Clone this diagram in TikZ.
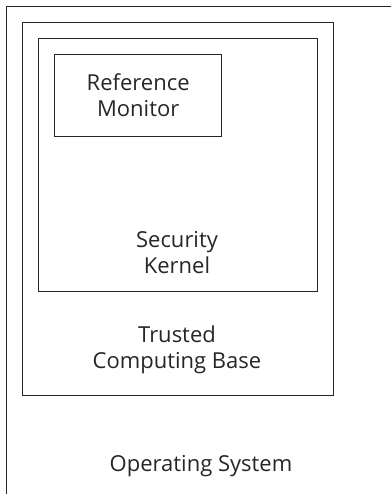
\documentclass[tikz,border=0pt]{standalone}
\usepackage{fontspec}
\setmainfont{Open Sans}
\begin{document}
\begin{tikzpicture}[x=1bp,y=-1bp,
  layer/.style={draw=black!85,line width=1.3bp,inner sep=0pt,anchor=north west},
  lbl/.style={align=center,font=\fontsize{22bp}{26bp}\selectfont,text=black!85}]
\useasboundingbox (0,0) rectangle (391,494);
\begin{scope}
\clip (0,0) rectangle (391,494);
\node[layer,minimum width=420bp,minimum height=520bp] (os) at (6,6) {};
\end{scope}
\node[layer,minimum width=311bp,minimum height=373bp] (tcb) at (22,22) {};
\node[layer,minimum width=279bp,minimum height=253bp] (sk) at (38,38) {};
\node[layer,minimum width=167bp,minimum height=82bp] (rm) at (54,54) {};
\node[lbl] (rmt) at (rm.center) {Reference\\Monitor};
\node[lbl] (skt) at (177,253) {Security\\Kernel};
\node[lbl] (tcbt) at (177,350) {Trusted\\Computing Base};
\node[lbl] (ost) at (201,466) {Operating System};
\end{tikzpicture}
\end{document}
